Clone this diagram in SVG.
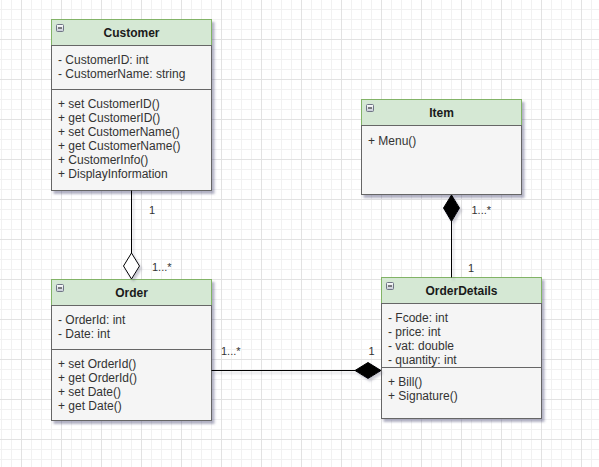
<svg xmlns="http://www.w3.org/2000/svg" width="599" height="467" viewBox="0 0 599 467">
  <defs>
    <pattern id="grid" patternUnits="userSpaceOnUse" x="21" y="39" width="40" height="40">
      <path d="M10.5 0V40M20.5 0V40M30.5 0V40M0 10.5H40M0 20.5H40M0 30.5H40" stroke="#f1f1f1" stroke-width="1" fill="none"/>
      <path d="M0.5 0V40M0 0.5H40" stroke="#e2e2e2" stroke-width="1" fill="none"/>
    </pattern>
    <filter id="shadow" x="-10%" y="-10%" width="125%" height="125%">
      <feDropShadow dx="2.5" dy="3" stdDeviation="1.2" flood-color="#55557a" flood-opacity="0.45"/>
    </filter>
    <filter id="lineShadow" x="-10%" y="-50%" width="125%" height="200%">
      <feDropShadow dx="2" dy="2.5" stdDeviation="1" flood-color="#666680" flood-opacity="0.35"/>
    </filter>
    <linearGradient id="iconFill" x1="0" y1="0" x2="0" y2="1">
      <stop offset="0" stop-color="#ffffff"/>
      <stop offset="1" stop-color="#c4c8d4"/>
    </linearGradient>
    <style>
      .head { fill: #d5e8d4; stroke: #82b366; stroke-width: 1; }
      .body { fill: #f5f5f5; stroke: #666666; stroke-width: 1; }
      .sep { stroke: #666666; stroke-width: 1; }
      .title { font-family: "Liberation Sans", Arial, sans-serif; font-size: 12px; font-weight: bold; fill: #1a1a1a; text-anchor: middle; }
      .txt { font-family: "Liberation Sans", Arial, sans-serif; font-size: 12px; fill: #333333; }
      .lbl { font-family: "Liberation Sans", Arial, sans-serif; font-size: 11px; fill: #333333; }
      .icon { fill: url(#iconFill); stroke: #6f7585; stroke-width: 1; }
      .minus { stroke: #111111; stroke-width: 1; }
      .edge { stroke: #000000; stroke-width: 1; fill: none; }
    </style>
  </defs>

  <!-- canvas grid -->
  <rect width="599" height="467" fill="#ffffff"/>
  <rect width="599" height="467" fill="url(#grid)"/>

  <!-- Customer class -->
  <g id="customer">
    <g filter="url(#shadow)">
      <rect class="head" x="51.5" y="19.5" width="160" height="26"/>
      <rect class="body" x="51.5" y="45.5" width="160" height="145"/>
    </g>
    <line class="sep" x1="51.5" y1="89.5" x2="211.5" y2="89.5"/>
    <rect class="icon" x="56.5" y="24.5" width="7" height="7" rx="1"/>
    <line class="minus" x1="58" y1="28" x2="62" y2="28"/>
    <text class="title" x="131.5" y="37">Customer</text>
    <text class="txt" x="58" y="64">- CustomerID: int</text>
    <text class="txt" x="58" y="78">- CustomerName: string</text>
    <text class="txt" x="58" y="108">+ set CustomerID()</text>
    <text class="txt" x="58" y="122">+ get CustomerID()</text>
    <text class="txt" x="58" y="136">+ set CustomerName()</text>
    <text class="txt" x="58" y="150">+ get CustomerName()</text>
    <text class="txt" x="58" y="164">+ CustomerInfo()</text>
    <text class="txt" x="58" y="178">+ DisplayInformation</text>
  </g>

  <!-- Item class -->
  <g id="item">
    <g filter="url(#shadow)">
      <rect class="head" x="361.5" y="99.5" width="160" height="26"/>
      <rect class="body" x="361.5" y="125.5" width="160" height="69"/>
    </g>
    <rect class="icon" x="366.5" y="104.5" width="7" height="7" rx="1"/>
    <line class="minus" x1="368" y1="108" x2="372" y2="108"/>
    <text class="title" x="441.5" y="117">Item</text>
    <text class="txt" x="368" y="144.5">+ Menu()</text>
  </g>

  <!-- Order class -->
  <g id="order">
    <g filter="url(#shadow)">
      <rect class="head" x="51.5" y="279.5" width="160" height="26"/>
      <rect class="body" x="51.5" y="305.5" width="160" height="115"/>
    </g>
    <line class="sep" x1="51.5" y1="349.5" x2="211.5" y2="349.5"/>
    <rect class="icon" x="56.5" y="284.5" width="7" height="7" rx="1"/>
    <line class="minus" x1="58" y1="288" x2="62" y2="288"/>
    <text class="title" x="131.5" y="297">Order</text>
    <text class="txt" x="58" y="323.5">- OrderId: int</text>
    <text class="txt" x="58" y="337.5">- Date: int</text>
    <text class="txt" x="58" y="367.5">+ set OrderId()</text>
    <text class="txt" x="58" y="381.5">+ get OrderId()</text>
    <text class="txt" x="58" y="395.5">+ set Date()</text>
    <text class="txt" x="58" y="409.5">+ get Date()</text>
  </g>

  <!-- OrderDetails class -->
  <g id="orderdetails">
    <g filter="url(#shadow)">
      <rect class="head" x="381.5" y="277.5" width="160" height="26"/>
      <rect class="body" x="381.5" y="303.5" width="160" height="115"/>
    </g>
    <line class="sep" x1="381.5" y1="367.5" x2="541.5" y2="367.5"/>
    <rect class="icon" x="386.5" y="282.5" width="7" height="7" rx="1"/>
    <line class="minus" x1="388" y1="286" x2="392" y2="286"/>
    <text class="title" x="461.5" y="295">OrderDetails</text>
    <text class="txt" x="388" y="322">- Fcode: int</text>
    <text class="txt" x="388" y="336">- price: int</text>
    <text class="txt" x="388" y="350">- vat: double</text>
    <text class="txt" x="388" y="364">- quantity: int</text>
    <text class="txt" x="388" y="385.5">+ Bill()</text>
    <text class="txt" x="388" y="399.5">+ Signature()</text>
  </g>

  <!-- connectors -->
  <g id="connectors">
    <g filter="url(#lineShadow)">
      <!-- Customer to Order: aggregation -->
      <line class="edge" x1="131.5" y1="190.5" x2="131.5" y2="253"/>
      <polygon points="131.5,253 139.5,266 131.5,279 123.5,266" fill="#ffffff" stroke="#000000" stroke-width="1"/>
      <!-- Item to OrderDetails: composition -->
      <line class="edge" x1="451.5" y1="221" x2="451.5" y2="277.5"/>
      <polygon points="451.5,195 459.5,208 451.5,221.5 443.5,208" fill="#000000" stroke="#000000" stroke-width="1"/>
      <!-- Order to OrderDetails: composition -->
      <line class="edge" x1="211.5" y1="370.5" x2="355" y2="370.5"/>
      <polygon points="381,370.5 368,378.5 355,370.5 368,362.5" fill="#000000" stroke="#000000" stroke-width="1"/>
    </g>
    <text class="lbl" x="149" y="214">1</text>
    <text class="lbl" x="152" y="271">1...*</text>
    <text class="lbl" x="471.5" y="214">1...*</text>
    <text class="lbl" x="468" y="271.5">1</text>
    <text class="lbl" x="221" y="355">1...*</text>
    <text class="lbl" x="368.5" y="355">1</text>
  </g>
</svg>
